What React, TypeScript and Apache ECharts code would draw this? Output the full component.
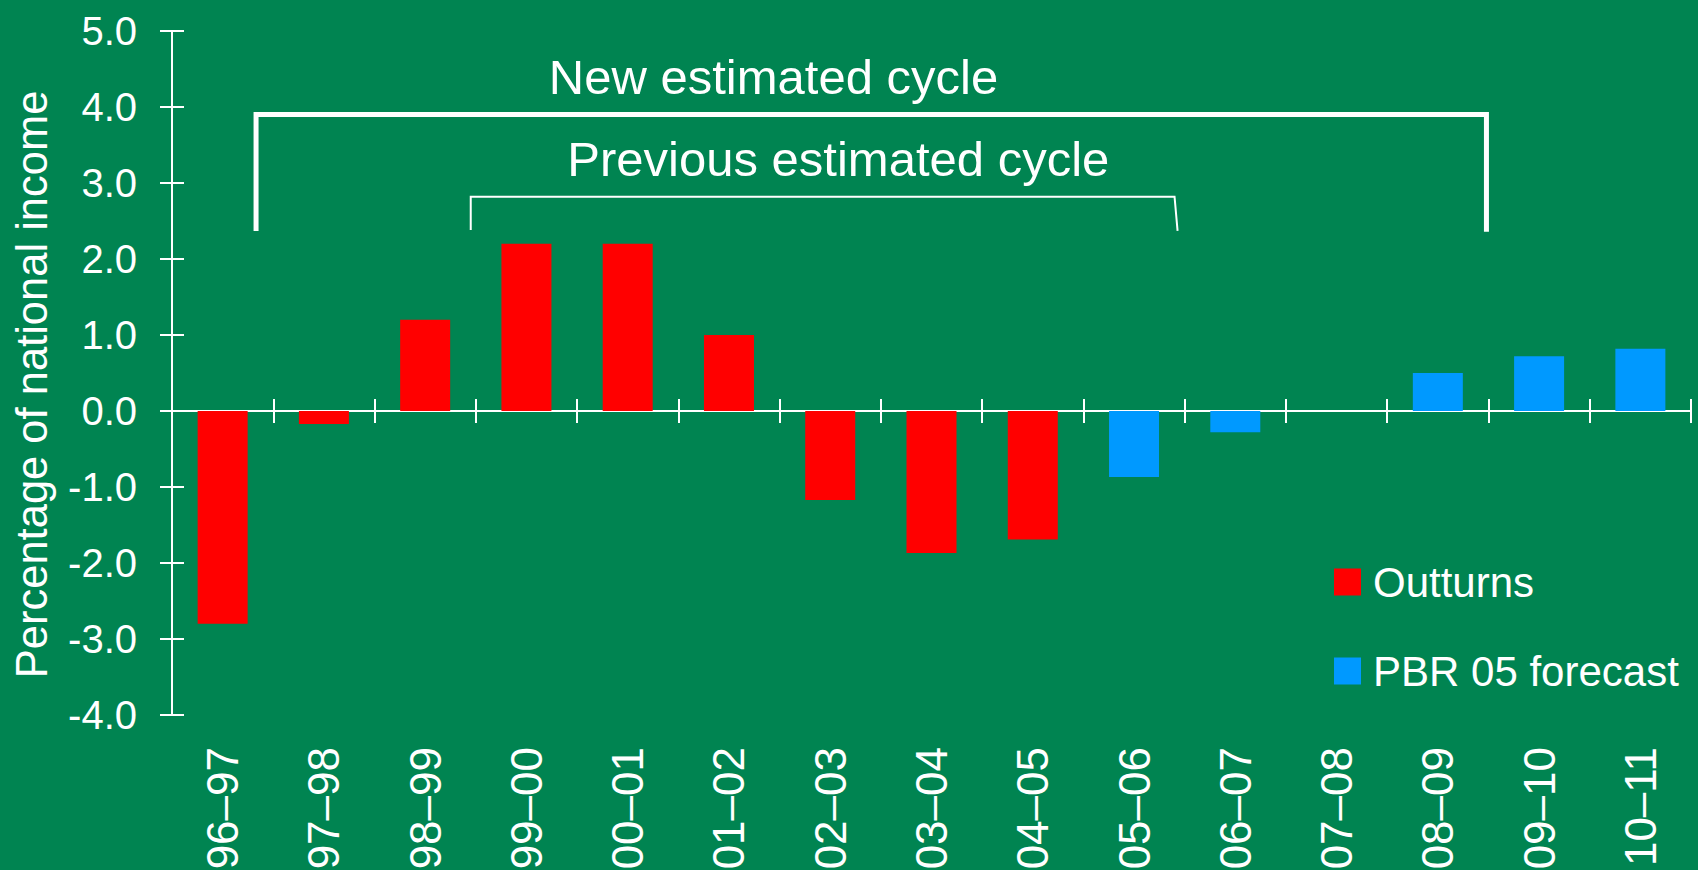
import React, { useEffect, useRef } from 'react';
import * as echarts from 'echarts';

const categories = ['96–97', '97–98', '98–99', '99–00', '00–01', '01–02', '02–03', '03–04', '04–05', '05–06', '06–07', '07–08', '08–09', '09–10', '10–11'];
const outturns = [-2.8, -0.17, 1.2, 2.2, 2.2, 1.0, -1.17, -1.87, -1.69, null, null, null, null, null, null];
const forecast = [null, null, null, null, null, null, null, null, null, -0.87, -0.28, 0, 0.5, 0.72, 0.82];

const yMin = -4;
const yMax = 5;
const yStep = 1;
const yAxisTitle = 'Percentage of national income';

// bracket annotations, in (category index, value) units
const newCycleBracket = [[0.33, 2.37], [0.33, 3.9], [12.48, 3.9], [12.48, 2.36]];
const prevCycleBracket = [[2.45, 2.38], [2.45, 2.82], [9.4, 2.82], [9.43, 2.37]];
const annotationTexts = ['New estimated cycle', 'Previous estimated cycle'];
const annotationX = [5.44, 6.08];
const annotationY = [4.39, 3.31];

const FONT = '"Liberation Sans", Arial, Helvetica, sans-serif';
const WHITE = '#ffffff';

export default function App() {
  const ref = useRef<HTMLDivElement>(null);
  useEffect(() => {
    const chart = echarts.init(ref.current!, null, { renderer: 'svg' });
    const catAxisBase = {
      type: 'category',
      data: categories,
      boundaryGap: true,
      position: 'bottom',
    };
    const option: any = {
      animation: false,
      backgroundColor: '#008451',
      textStyle: { fontFamily: FONT },
      grid: { left: 172, right: 7, top: 31, bottom: 155, containLabel: false, outerBoundsMode: 'none' },
      legend: {
        data: ['Outturns', 'PBR 05 forecast'],
        orient: 'vertical',
        left: 1334,
        top: 561,
        padding: 0,
        itemWidth: 27,
        itemHeight: 27,
        itemGap: 47,
        icon: 'rect',
        selectedMode: false,
        textStyle: { color: WHITE, fontSize: 42, fontFamily: FONT, lineHeight: 27, padding: [0, 0, 0, 7] },
      },
      xAxis: [
        {
          ...catAxisBase,
          axisLine: { show: true, onZero: true, lineStyle: { color: WHITE, width: 2 } },
          axisTick: { show: true, inside: false, length: 12, interval: 0, lineStyle: { color: WHITE, width: 2 } },
          axisLabel: { show: false },
          splitLine: { show: false },
        },
        {
          ...catAxisBase,
          axisLine: { show: true, onZero: true, lineStyle: { color: WHITE, width: 2 } },
          axisTick: { show: true, inside: true, length: 12, interval: 0, lineStyle: { color: WHITE, width: 2 } },
          axisLabel: { show: false },
          splitLine: { show: false },
        },
        {
          ...catAxisBase,
          axisLine: { show: false, onZero: false },
          axisTick: { show: false },
          axisLabel: { show: true, rotate: 90, margin: 32, interval: 0, color: WHITE, fontSize: 44, fontFamily: FONT },
          splitLine: { show: false },
        },
        {
          type: 'value',
          min: -0.5,
          max: 14.5,
          show: false,
          splitLine: { show: false },
        },
      ],
      yAxis: [
        {
          type: 'value',
          min: yMin,
          max: yMax,
          interval: yStep,
          position: 'left',
          axisLine: { show: true, onZero: false, lineStyle: { color: WHITE, width: 2 } },
          axisTick: { show: true, inside: false, length: 12, lineStyle: { color: WHITE, width: 2 } },
          axisLabel: { show: true, margin: 35, color: WHITE, fontSize: 40, fontFamily: FONT, formatter: (v: number) => v.toFixed(1) },
          splitLine: { show: false },
        },
        {
          type: 'value',
          min: yMin,
          max: yMax,
          interval: yStep,
          position: 'left',
          axisLine: { show: true, onZero: false, lineStyle: { color: WHITE, width: 2 } },
          axisTick: { show: true, inside: true, length: 12, lineStyle: { color: WHITE, width: 2 } },
          axisLabel: { show: false },
          splitLine: { show: false },
        },
      ],
      series: [
        {
          name: 'Outturns',
          type: 'bar',
          stack: 'all',
          xAxisIndex: 0,
          yAxisIndex: 0,
          barWidth: 50,
          data: outturns,
          itemStyle: { color: '#FF0000' },
        },
        {
          name: 'PBR 05 forecast',
          type: 'bar',
          stack: 'all',
          xAxisIndex: 0,
          yAxisIndex: 0,
          barWidth: 50,
          data: forecast,
          itemStyle: { color: '#0099FF' },
        },
        {
          name: 'newCycle',
          type: 'line',
          xAxisIndex: 3,
          yAxisIndex: 0,
          data: newCycleBracket,
          symbol: 'none',
          silent: true,
          lineStyle: { color: WHITE, width: 5, join: 'miter', cap: 'butt' },
        },
        {
          name: 'prevCycle',
          type: 'line',
          xAxisIndex: 3,
          yAxisIndex: 0,
          data: prevCycleBracket,
          symbol: 'none',
          silent: true,
          lineStyle: { color: WHITE, width: 2, join: 'miter', cap: 'butt' },
        },
      ],
    };
    chart.setOption(option);
    const graphics: any[] = annotationTexts.map((t, i) => {
      const p = chart.convertToPixel({ seriesIndex: 2 }, [annotationX[i], annotationY[i]]) as number[];
      return {
        type: 'text',
        x: p[0],
        y: p[1],
        silent: true,
        style: {
          text: t,
          fill: WHITE,
          fontSize: 49,
          fontFamily: FONT,
          align: 'center',
          verticalAlign: 'middle',
          textAlign: 'center',
          textVerticalAlign: 'middle',
        },
      };
    });
    // y-axis title, centred a little below the middle of the value axis
    const mid = chart.convertToPixel({ seriesIndex: 2 }, [0, 0.35]) as number[];
    graphics.push({
      type: 'text',
      x: 32,
      y: mid[1],
      rotation: Math.PI / 2,
      silent: true,
      style: {
        text: yAxisTitle,
        fill: WHITE,
        fontSize: 43.5,
        fontFamily: FONT,
        align: 'center',
        verticalAlign: 'middle',
        textAlign: 'center',
        textVerticalAlign: 'middle',
      },
    });
    chart.setOption({ graphic: graphics });
    return () => chart.dispose();
  }, []);
  return (
    <div
      ref={ref}
      style={{ position: 'fixed', left: 0, top: 0, width: 1698, height: 870, background: '#008451' }}
    />
  );
}
